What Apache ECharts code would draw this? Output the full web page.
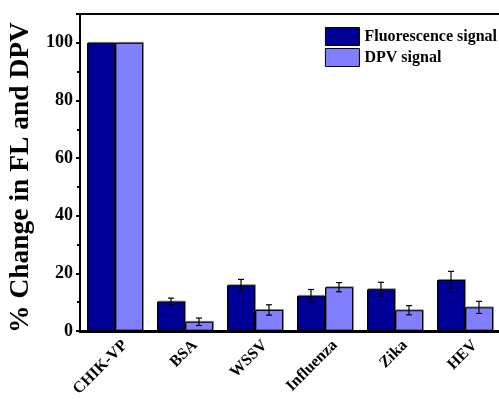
<!DOCTYPE html>
<html><head><meta charset="utf-8">
<script src="https://cdn.jsdelivr.net/npm/echarts@6/dist/echarts.min.js"></script>
<style>html,body{margin:0;padding:0;background:#fff}#c{width:499px;height:402px}</style>
</head><body><div id="c"></div>
<script>
const categories = ['CHIK-VP','BSA','WSSV','Influenza','Zika','HEV'];
const flValues = [100, 10.2, 15.9, 12.2, 14.5, 17.7];
const flErrors = [0, 1.2, 2.0, 2.2, 2.4, 3.0];
const dpvValues = [100, 3.2, 7.3, 15.2, 7.2, 8.2];
const dpvErrors = [0, 1.3, 1.8, 1.6, 1.6, 2.1];
const yTicks = [0, 20, 40, 60, 80, 100];

const FONT = '"Liberation Serif", "Times New Roman", serif';
const chart = echarts.init(document.getElementById('c'));

function errSeries(vals, errs, side) {
  return {
    type: 'custom',
    z: 10,
    silent: true,
    data: vals.map((v, i) => [i, v, errs[i]]),
    renderItem: function (params, api) {
      const i = api.value(0), v = api.value(1), e = api.value(2);
      if (!e) return null;
      const cat = api.size([1, 0])[0];
      const bw = cat * 0.8 / 2;
      const c = api.coord([i, v]);
      const x = c[0] + side * bw / 2;
      const top = api.coord([i, v + e])[1];
      const bot = api.coord([i, v - e])[1];
      const h = 3;
      const st = { stroke: '#000', lineWidth: 1.2 };
      return { type: 'group', children: [
        { type: 'line', shape: { x1: x, y1: top, x2: x, y2: bot }, style: st },
        { type: 'line', shape: { x1: x - h, y1: top, x2: x + h, y2: top }, style: st },
        { type: 'line', shape: { x1: x - h, y1: bot, x2: x + h, y2: bot }, style: st }
      ]};
    }
  };
}

chart.setOption({
  animation: false,
  backgroundColor: '#fff',
  grid: { left: 80, right: -1, top: 14, bottom: 71, containLabel: false, outerBoundsMode: 'none' },
  legend: {
    right: -3, top: 22, orient: 'vertical', itemGap: 2,
    itemWidth: 34, itemHeight: 18,
    textStyle: { fontFamily: FONT, fontWeight: 'bold', fontSize: 16, color: '#000' },
    data: [
      { name: 'Fluorescence signal', icon: 'rect', itemStyle: { color: '#000099', borderColor: '#000', borderWidth: 1 } },
      { name: 'DPV signal', icon: 'rect', itemStyle: { color: '#8080FF', borderColor: '#000', borderWidth: 1 } }
    ]
  },
  xAxis: [{
    type: 'category', data: categories,
    axisLine: { lineStyle: { color: '#000', width: 3 } },
    axisTick: { show: false },
    axisLabel: { rotate: 45, interval: 0, color: '#000', fontFamily: FONT, fontWeight: 'bold', fontSize: 16,
      margin: 2, verticalAlign: 'top', lineHeight: 28 }
  }, {
    type: 'category', position: 'top', data: categories,
    axisLine: { lineStyle: { color: '#000', width: 2 } },
    axisTick: { show: false }, axisLabel: { show: false }
  }],
  yAxis: {
    type: 'value', min: 0, max: 110, interval: 20,
    name: '% Change in FL and DPV', nameLocation: 'middle', nameGap: 43,
    nameTextStyle: { fontFamily: FONT, fontWeight: 'bold', fontSize: 27.5, color: '#000', padding: [0, 10, 0, 0] },
    axisLine: { show: true, lineStyle: { color: '#000', width: 2 } },
    axisTick: { show: true, inside: false, length: 4, lineStyle: { color: '#000', width: 2 } },
    minorTick: { show: true, splitNumber: 2, length: 3, lineStyle: { color: '#000', width: 2 } },
    splitLine: { show: false },
    axisLabel: { color: '#000', fontFamily: FONT, fontWeight: 'bold', fontSize: 18, margin: 7,
      formatter: v => yTicks.includes(v) ? String(v) : '' }
  },
  series: [
    { name: 'Fluorescence signal', type: 'bar', data: flValues, barGap: '0%', barCategoryGap: '20%',
      itemStyle: { color: '#000099', borderColor: '#000', borderWidth: 1, shadowColor: 'rgba(0,0,0,0.35)', shadowOffsetX: 1, shadowOffsetY: -1 } },
    { name: 'DPV signal', type: 'bar', data: dpvValues, barGap: '0%', barCategoryGap: '20%',
      itemStyle: { color: '#8080FF', borderColor: '#000', borderWidth: 1, shadowColor: 'rgba(0,0,0,0.35)', shadowOffsetX: 1, shadowOffsetY: -1 } },
    errSeries(flValues, flErrors, -1),
    errSeries(dpvValues, dpvErrors, 1)
  ]
});
</script></body></html>
